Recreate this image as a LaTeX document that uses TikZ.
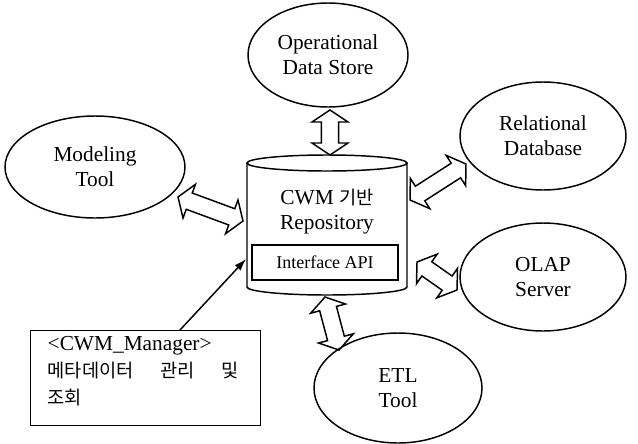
\documentclass[tikz,border=0pt]{standalone}
\usepackage{fontspec}
\setmainfont{Liberation Serif}
\newfontfamily\kr{Noto Sans CJK KR}
\usetikzlibrary{shapes.geometric,calc,arrows.meta}
\newcommand\hollowarrow[2]{%
  \draw[hollow] (#1)
    -- ($(#1)!9pt!(#2)!13.5pt!90:(#2)$)
    -- ($(#1)!9pt!(#2)!6.5pt!90:(#2)$)
    -- ($(#2)!9pt!(#1)!6.5pt!-90:(#1)$)
    -- ($(#2)!9pt!(#1)!13.5pt!-90:(#1)$)
    -- (#2)
    -- ($(#2)!9pt!(#1)!13.5pt!90:(#1)$)
    -- ($(#2)!9pt!(#1)!6.5pt!90:(#1)$)
    -- ($(#1)!9pt!(#2)!6.5pt!-90:(#2)$)
    -- ($(#1)!9pt!(#2)!13.5pt!-90:(#2)$)
    -- cycle;}
\begin{document}
\begin{tikzpicture}[x=0.75pt,y=-0.75pt,line width=1.1pt,
  ell/.style={draw, ellipse, inner sep=0pt, align=center, font=\fontsize{16}{19}\selectfont},
  txt/.style={inner sep=0pt, font=\fontsize{16}{19}\selectfont},
  krtxt/.style={inner sep=0pt, font=\kr\fontsize{14}{16}\selectfont},
  hollow/.style={draw, line width=1.1pt, line join=miter},
]
\useasboundingbox (0,0) rectangle (638,443);

% ellipses
\node[ell, minimum width=120pt, minimum height=78pt] (ods) at (328,55) {Operational\\Data Store};
\node[ell, minimum width=124.5pt, minimum height=81pt] (rdb) at (543,136) {Relational\\Database};
\node[ell, minimum width=135pt, minimum height=76.5pt] (mod) at (95,167) {Modeling\\Tool};
\node[ell, minimum width=124.5pt, minimum height=81pt] (olap) at (543,277) {OLAP\\Server};
\node[ell, minimum width=126pt, minimum height=82.5pt] (etl) at (398,388) {ETL\\Tool};

% cylinder
\draw (327,163) ellipse [x radius=80, y radius=8];
\draw (247,163) -- (247,287) arc[start angle=180, end angle=0, x radius=80, y radius=8] -- (407,163);
\node[txt] (cwm) at (327,198) {CWM {\kr\fontsize{14}{16}\selectfont 기반}};
\node[txt] (repo) at (327,225) {Repository};
\node[draw, inner sep=0pt, minimum width=109.5pt, minimum height=26.25pt,
      font=\fontsize{13.5}{16}\selectfont] (api) at (325,262.5) {Interface API};

% manager box
\node[draw, inner sep=0pt, anchor=north west, minimum width=172.5pt, minimum height=71pt] (mgr) at (30,330) {};
\node[txt, anchor=west] (m1) at (47,346) {<CWM\_Manager>};
\node[krtxt, anchor=west] (m2) at (47,371)
  {\makebox[143pt][s]{메타데이터\hfill 관리\hfill 및}};
\node[krtxt, anchor=west] (m3) at (47,398) {조회};

\coordinate (mstart) at (180,330);
\coordinate (mtip) at (246,259);
\draw[-{Latex[length=9pt,width=6pt]}] (mstart) -- (mtip);

% double arrows
\coordinate (a1) at (330,110); \coordinate (b1) at (330,155);
\coordinate (a2) at (178,197); \coordinate (b2) at (243,221);
\coordinate (a3) at (410,200); \coordinate (b3) at (466,164);
\coordinate (a4) at (417,262); \coordinate (b4) at (457,290);
\coordinate (a5) at (325,297); \coordinate (b5) at (339,350);
\hollowarrow{a1}{b1}
\hollowarrow{a2}{b2}
\hollowarrow{a3}{b3}
\hollowarrow{a4}{b4}
\hollowarrow{a5}{b5}
\end{tikzpicture}
\end{document}
